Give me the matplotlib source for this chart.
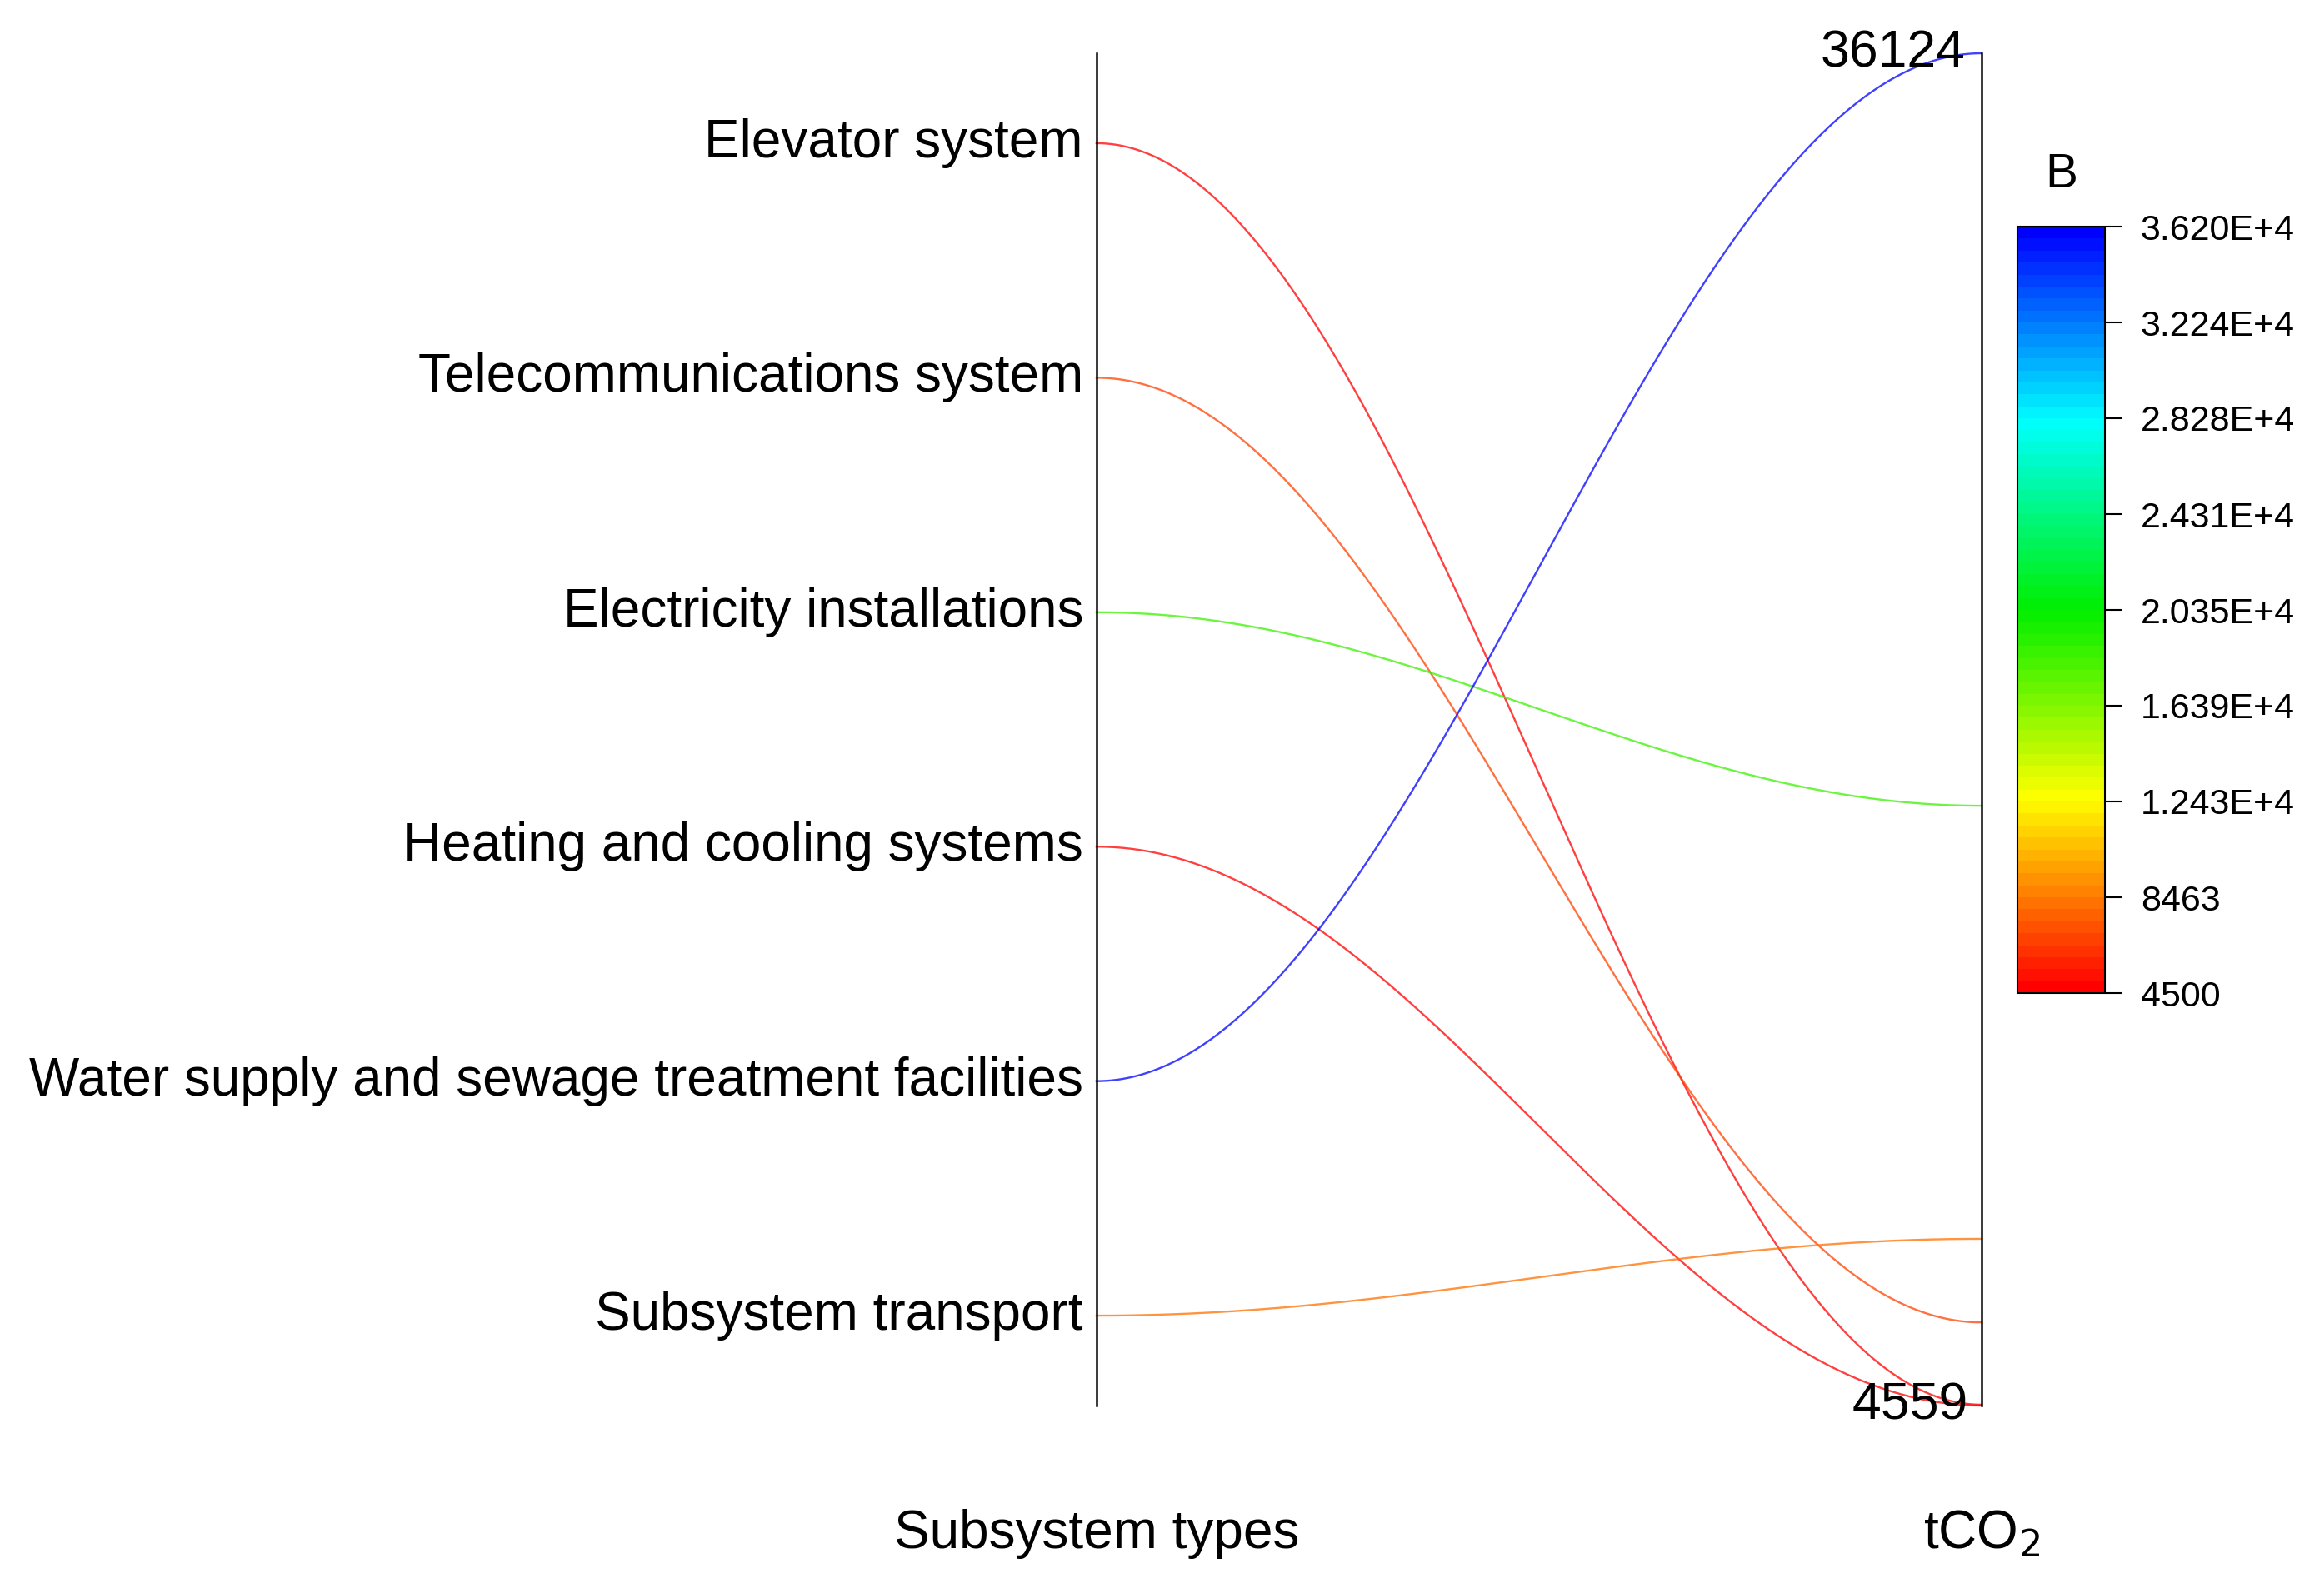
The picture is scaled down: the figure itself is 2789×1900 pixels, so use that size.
import numpy as np
import matplotlib
matplotlib.use('Agg')
import matplotlib.pyplot as plt
from matplotlib.colors import LinearSegmentedColormap, Normalize
from matplotlib.cm import ScalarMappable

plt.rcParams['font.family'] = ['Liberation Sans', 'DejaVu Sans']

# data
subsystems = ['Elevator system', 'Telecommunications system', 'Electricity installations',
              'Heating and cooling systems', 'Water supply and sewage treatment facilities',
              'Subsystem transport']
emissions = [4580, 6500, 18560, 4559, 36124, 8450]
axis_min, axis_max = 4559, 36124

cbar_ticks = [4500, 8463, 12430, 16390, 20350, 24310, 28280, 32240, 36200]
cbar_labels = ['4500', '8463', '1.243E+4', '1.639E+4', '2.035E+4',
               '2.431E+4', '2.828E+4', '3.224E+4', '3.620E+4']

cmap = LinearSegmentedColormap.from_list(
    'rainbow_b', ['#ff0000', '#ffff00', '#00ee00', '#00ffff', '#0000ff'], N=64)
norm = Normalize(vmin=cbar_ticks[0], vmax=cbar_ticks[-1])

fig = plt.figure(figsize=(27.89, 19.0), dpi=100)
ax = fig.add_axes([0.4718, 0.1121, 0.3808, 0.8542])
ax.set_xlim(0, 1)
ax.set_ylim(0, 1)

# category positions on the left axis (top to bottom)
pad = 0.0665
left_pos = np.linspace(1 - pad, pad, len(subsystems))

t = np.linspace(0, 1, 200)
s = (1 - np.cos(np.pi * t)) / 2
for name, y0, val in zip(subsystems, left_pos, emissions):
    y1 = (val - axis_min) / (axis_max - axis_min)
    ax.plot(t, y0 + (y1 - y0) * s, color=cmap(norm(val)), lw=1.7, alpha=0.75,
            clip_on=False, zorder=2)
    ax.text(-0.015, y0, name, ha='right', va='center', fontsize=46)

for sp in ['top', 'bottom']:
    ax.spines[sp].set_visible(False)
for sp in ['left', 'right']:
    ax.spines[sp].set_linewidth(1.8)
    ax.spines[sp].set_color('black')
ax.set_xticks([])
ax.set_yticks([])

ax.text(0.982, 1.0, str(axis_max), ha='right', va='center', fontsize=45)
ax.text(0.985, 0.0, str(axis_min), ha='right', va='center', fontsize=45)

ax.text(0.0, -0.095, 'Subsystem types', ha='center', va='center', fontsize=46)
ax.text(1.0, -0.095, r'tCO$_2$', ha='center', va='center', fontsize=46)

# colorbar
cax = fig.add_axes([0.868, 0.3726, 0.0376, 0.4842])
sm = ScalarMappable(norm=norm, cmap=cmap)
cb = fig.colorbar(sm, cax=cax, ticks=cbar_ticks)
cb.ax.set_yticklabels(cbar_labels)
cb.ax.tick_params(length=15, width=1.5, labelsize=31, pad=16)
cb.outline.set_linewidth(1.5)
cax.set_title('B', fontsize=42, pad=34)

fig.savefig('out.png', dpi=100)
